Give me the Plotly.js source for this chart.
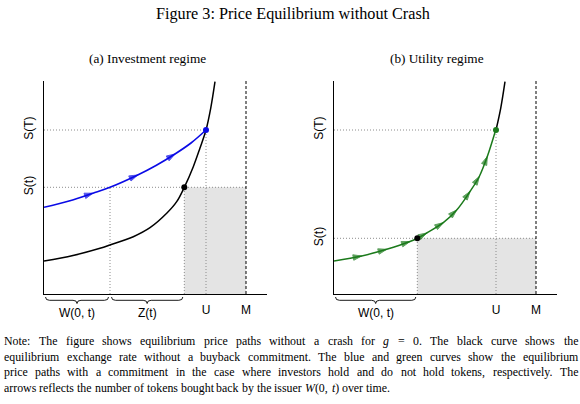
<!DOCTYPE html>
<html>
<head>
<meta charset="utf-8">
<script src="https://cdn.plot.ly/plotly-3.0.1.min.js"></script>
<style>html,body{margin:0;padding:0;background:#fff}</style>
</head>
<body>
<div id="chart" style="width:580px;height:404px"></div>
<script>
// curve readings (x: tokens, y: price), same units in both panels
var blackX = [0, 29, 56, 66, 89.3, 106, 122.7, 132.7, 140.3, 149.3, 156, 162, 166.7, 171];
var blackY = [33, 38.5, 45.7, 49, 57.3, 66.3, 80.7, 92.3, 106.7, 127.3, 146, 164, 185.7, 212.3];

var blueX = [0, 25, 49, 66, 93.7, 112, 131, 147, 162];
var blueY = [86.7, 93, 100.8, 106.7, 119, 128.5, 140, 151, 164];
var blueArrows = [2, 4, 6];

var greenX = [0, 27.7, 52.7, 76, 83.3, 92.7, 109.3, 122.7, 136, 145.3, 153.3, 161.7];
var greenY = [33, 38, 44.7, 52.5, 55.7, 61, 71.3, 84, 102.5, 117.5, 137.5, 164];
var greenArrows = [1, 2, 3, 5, 6, 7, 8, 9, 10];

// reference levels
var W0t = 66, U = 162, M = 202, ST = 164;
var tA = 140.3, StA = 106.7;   // panel (a)
var tB = 83.3, StB = 55.7;     // panel (b)

var xTickVals = [U, M];
var xTickText = ['U', 'M'];
var yTickText = ['S(T)', 'S(t)'];

var title = 'Figure 3: Price Equilibrium without Crash';
var subA = '(a) Investment regime';
var subB = '(b) Utility regime';
var note = [
  'Note: The figure shows equilibrium price paths without a crash for <i>g</i> = 0. The black curve shows the',
  'equilibrium exchange rate without a buyback commitment. The blue and green curves show the equilibrium',
  'price paths with a commitment in the case where investors hold and do not hold tokens, respectively. The',
  'arrows reflects the number of tokens bought back by the issuer <i>W</i>(0, <i>t</i>) over time.'
];

// ---- geometry helpers (figure pixels -> paper, margins are zero)
var FW = 580, FH = 404;
var XR = 223, YR = 213;
var panA = {x0: 44, x1: 267}, panB = {x0: 334, x1: 557};
var plotTop = 81, plotBot = 294;
function px(x) { return x / FW; }
function py(y) { return 1 - y / FH; }
function dataPx(pan, v) { return pan.x0 + v * (pan.x1 - pan.x0) / XR; }

var serif = '"Liberation Serif", "Times New Roman", serif';
var sans = '"Liberation Sans", Arial, sans-serif';

var ctx = document.createElement('canvas').getContext('2d');
function measure(txt, size) {
  ctx.font = size + 'px "Liberation Serif"';
  return ctx.measureText(txt.replace(/<[^>]+>/g, '')).width;
}
function fitSize(txt, width) { return 12 * width / measure(txt, 12); }

var annotations = [];
function label(txt, x, y, size, fam) {
  annotations.push({text: txt, x: px(x), y: py(y), xref: 'paper', yref: 'paper',
    xanchor: 'center', yanchor: 'middle', showarrow: false,
    font: {family: fam || serif, size: size, color: '#000'}});
}

label(title, 293, 14, fitSize(title, 274));
var subSize = (fitSize(subA, 117) + fitSize(subB, 94)) / 2;
label(subA, 147.5, 58.5, subSize);
label(subB, 437, 58.5, subSize);

// justified note, one annotation per word
var noteL = 3, noteR = 577, noteY = [341, 356.5, 372, 387.5];
var noteSize = fitSize(note[3], 386);
note.forEach(function (line, li) {
  var words = line.split(' ');
  var widths = words.map(function (w) { return measure(w, noteSize); });
  var total = widths.reduce(function (a, b) { return a + b; }, 0);
  var last = li === note.length - 1;
  var gap = last ? measure(' ', noteSize) : (noteR - noteL - total) / (words.length - 1);
  var x = noteL;
  words.forEach(function (w, i) {
    annotations.push({text: w, x: px(x), y: py(noteY[li]), xref: 'paper', yref: 'paper',
      xanchor: 'left', yanchor: 'middle', borderpad: 0, showarrow: false,
      font: {family: serif, size: noteSize, color: '#000'}});
    x += widths[i] + gap;
  });
});

// brace labels under the x axis
function braceLabel(txt, xref, a, b) {
  annotations.push({text: txt, x: (a + b) / 2, xref: xref, y: py(313), yref: 'paper',
    xanchor: 'center', yanchor: 'middle', showarrow: false,
    font: {family: sans, size: 12, color: '#000'}});
}
braceLabel('W(0, t)', 'x', 0, W0t);
braceLabel('Z(t)', 'x', W0t, tA);
braceLabel('W(0, t)', 'x2', 0, tB);

function P(x, y) { return px(x) + ',' + py(y); }
function brace(pan, a, b) {
  var xa = dataPx(pan, a) + 1.5, xb = dataPx(pan, b) - 1.5, m = (xa + xb) / 2;
  var top = 297, mid = 300.3, tip = 303.5, r = 4;
  return 'M' + P(xa, top) + ' Q' + P(xa, mid) + ' ' + P(xa + r, mid) +
    ' L' + P(m - r, mid) + ' Q' + P(m, mid) + ' ' + P(m, tip) +
    ' Q' + P(m, mid) + ' ' + P(m + r, mid) +
    ' L' + P(xb - r, mid) + ' Q' + P(xb, mid) + ' ' + P(xb, top);
}

var shapes = [];
function dotted(xr, yr, x0, y0, x1, y1) {
  shapes.push({type: 'line', xref: xr, yref: yr, x0: x0, y0: y0, x1: x1, y1: y1, layer: 'below',
    line: {color: '#8c8c8c', width: 1, dash: '1px,2px'}});
}
function panelShapes(xr, yr, t, St, extraV) {
  shapes.push({type: 'rect', xref: xr, yref: yr, x0: t, x1: M, y0: 0, y1: St, layer: 'below',
    fillcolor: '#e4e4e4', line: {width: 0}});
  dotted(xr, yr, 0, ST, U, ST);
  dotted(xr, yr, 0, St, M, St);
  extraV.forEach(function (v) { dotted(xr, yr, v, 0, v, St); });
  dotted(xr, yr, t, 0, t, St);
  dotted(xr, yr, U, 0, U, ST);
  shapes.push({type: 'line', xref: xr, yref: yr, x0: M, x1: M, y0: 0, y1: YR, layer: 'below',
    line: {color: '#000', width: 1, dash: '3px,2px'}});
}
panelShapes('x', 'y', tA, StA, [W0t]);
panelShapes('x2', 'y2', tB, StB, []);

[['A', 0, W0t], ['A', W0t, tA], ['B', 0, tB]].forEach(function (b) {
  shapes.push({type: 'path', xref: 'paper', yref: 'paper',
    path: brace(b[0] === 'A' ? panA : panB, b[1], b[2]),
    line: {color: '#000', width: 0.9}});
});

function arrowSizes(n, idx) {
  var s = [];
  for (var i = 0; i < n; i++) s.push(idx.indexOf(i) >= 0 ? 9 : 0);
  return s;
}

var blue = '#0a0ae6', green = '#1b7a1b';
var iU = blackX.indexOf(U);
var data = [
  {x: blackX, y: blackY, xaxis: 'x', yaxis: 'y', mode: 'lines',
    line: {color: '#000', width: 1.5, shape: 'spline'}},
  {x: blueX, y: blueY, xaxis: 'x', yaxis: 'y', mode: 'lines',
    line: {color: blue, width: 1.6, shape: 'spline'}},
  {x: blueX, y: blueY, xaxis: 'x', yaxis: 'y', mode: 'markers',
    marker: {symbol: 'arrow', angleref: 'previous', color: blue,
      size: arrowSizes(blueX.length, blueArrows), line: {width: 1, color: blue}}},
  {x: [tA], y: [StA], xaxis: 'x', yaxis: 'y', mode: 'markers',
    marker: {color: '#000', size: 6}},
  {x: [U], y: [ST], xaxis: 'x', yaxis: 'y', mode: 'markers',
    marker: {color: blue, size: 6}},

  {x: blackX.slice(iU), y: blackY.slice(iU), xaxis: 'x2', yaxis: 'y2', mode: 'lines',
    line: {color: '#000', width: 1.5, shape: 'spline'}},
  {x: greenX, y: greenY, xaxis: 'x2', yaxis: 'y2', mode: 'lines',
    line: {color: green, width: 1.5, shape: 'spline'}},
  {x: greenX, y: greenY, xaxis: 'x2', yaxis: 'y2', mode: 'markers',
    marker: {symbol: 'arrow', angleref: 'previous', color: green,
      size: arrowSizes(greenX.length, greenArrows), line: {width: 1, color: green}}},
  {x: [tB], y: [StB], xaxis: 'x2', yaxis: 'y2', mode: 'markers',
    marker: {color: '#000', size: 6}},
  {x: [U], y: [ST], xaxis: 'x2', yaxis: 'y2', mode: 'markers',
    marker: {color: green, size: 6}}
];

function xAxis(pan, anchor) {
  return {domain: [px(pan.x0), px(pan.x1)], range: [0, XR], anchor: anchor,
    showline: true, linecolor: '#000', linewidth: 1, showgrid: false, zeroline: false,
    ticks: '', tickvals: xTickVals, ticktext: xTickText, ticklabelstandoff: 5,
    tickfont: {family: sans, size: 12, color: '#000'}, fixedrange: true};
}
function yAxis(anchor, St) {
  return {domain: [py(plotBot), py(plotTop)], range: [0, YR], anchor: anchor,
    showline: true, linecolor: '#000', linewidth: 1, showgrid: false, zeroline: false,
    ticks: '', tickvals: [ST, St], ticktext: yTickText, tickangle: -90, ticklabelstandoff: 5,
    tickfont: {family: sans, size: 12, color: '#000'}, fixedrange: true};
}

var layout = {
  width: FW, height: FH,
  margin: {l: 0, r: 0, t: 0, b: 0},
  paper_bgcolor: '#fff', plot_bgcolor: '#fff',
  showlegend: false,
  xaxis: xAxis(panA, 'y'), yaxis: yAxis('x', StA),
  xaxis2: xAxis(panB, 'y2'), yaxis2: yAxis('x2', StB),
  shapes: shapes,
  annotations: annotations
};

Plotly.newPlot('chart', data, layout, {displayModeBar: false, staticPlot: true});
</script>
</body>
</html>
